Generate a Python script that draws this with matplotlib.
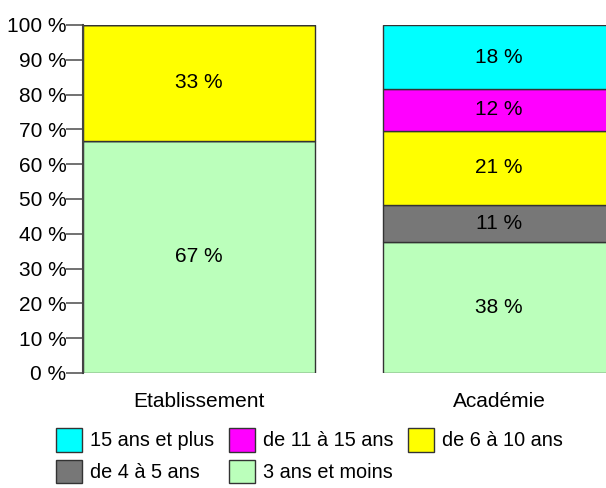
import matplotlib.pyplot as plt
import numpy as np
from matplotlib.patches import Patch

plt.rcParams['font.family'] = ['Liberation Sans', 'DejaVu Sans']

# données
groupes = ["Etablissement", "Académie"]
tranches = ["3 ans et moins", "de 4 à 5 ans", "de 6 à 10 ans",
            "de 11 à 15 ans", "15 ans et plus"]
couleurs = ["#bbffbb", "#777777", "#ffff00", "#ff00ff", "#00ffff"]
etab = [66.7, 0, 33.3, 0, 0]
acad = [37.7, 10.7, 21.2, 12.0, 18.4]

fig = plt.figure(figsize=(6.06, 4.88), dpi=100)
ax = fig.add_axes([83 / 606, 115 / 488, 523 / 606, 348 / 488])

x = np.arange(len(groupes))
larg = 0.773
bas = np.zeros(len(groupes))
for i, t in enumerate(tranches):
    vals = np.array([etab[i], acad[i]])
    ax.bar(x, vals, larg, bottom=bas, color=couleurs[i],
           edgecolor="#333333", linewidth=1)
    for j in range(len(groupes)):
        if vals[j] > 0:
            ax.text(x[j], bas[j] + vals[j] / 2, "%d %%" % round(vals[j]),
                    ha="center", va="center", fontsize=15)
    bas += vals

ax.set_xlim(-larg / 2, -larg / 2 + 523 / 300)
ax.set_ylim(0, 100)
ax.set_yticks(range(0, 101, 10))
ax.set_yticklabels(["%d %%" % v for v in range(0, 101, 10)], fontsize=15)
ax.set_xticks(x)
ax.set_xticklabels(groupes, fontsize=15)
ax.tick_params(axis="x", length=0, pad=14)
ax.tick_params(axis="y", length=12, color="#666666", width=1.3, pad=0)
for s in ["top", "right", "bottom"]:
    ax.spines[s].set_visible(False)
ax.spines["left"].set_color("#444444")
ax.spines["left"].set_linewidth(1.5)

# légende (ordre colonne par colonne)
ordre = [4, 1, 3, 0, 2]
poignees = [Patch(facecolor=couleurs[k], edgecolor="#333333", linewidth=1,
                  label=tranches[k]) for k in ordre]
fig.legend(handles=poignees, ncol=3, loc="upper left",
           bbox_to_anchor=(56 / 606, 1 - 428 / 488), frameon=False,
           fontsize=14.3, handlelength=1.3, handleheight=1.45,
           handletextpad=0.4, columnspacing=0.75, labelspacing=0.4,
           borderpad=0, borderaxespad=0)

fig.savefig("out.png", dpi=100)
